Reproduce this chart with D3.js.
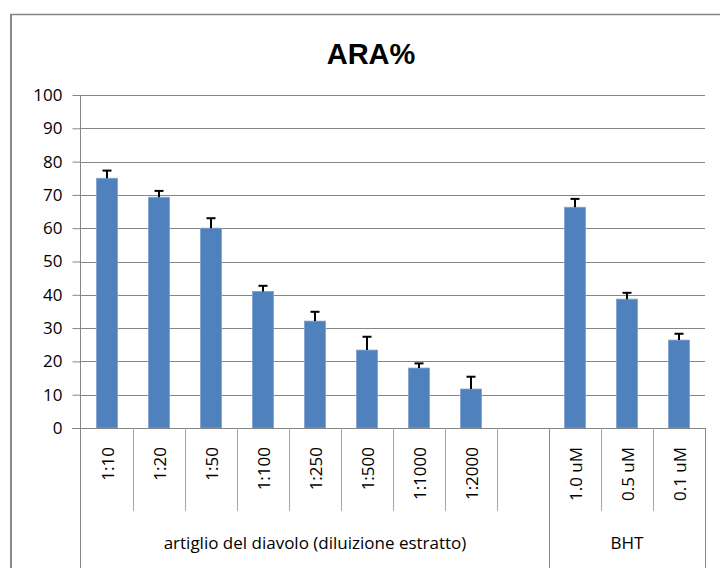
<!DOCTYPE html>
<html>
<head>
<meta charset="utf-8">
<script src="https://cdn.jsdelivr.net/npm/d3@7"></script>
<style>
  html, body { margin: 0; padding: 0; background: #fff; }
  svg { display: block; }
  text { font-family: "Open Sans", "DejaVu Sans", sans-serif; fill: #000; }
</style>
</head>
<body>
<svg id="chart" width="720" height="568"></svg>
<script>
// ---- data ----
const categories = ["1:10", "1:20", "1:50", "1:100", "1:250", "1:500", "1:1000", "1:2000", "", "1.0 uM", "0.5 uM", "0.1 uM"];
const values = [75, 69.3, 60, 41, 32.1, 23.4, 18, 11.7, null, 66.3, 38.7, 26.4];
const errors = [2.3, 1.9, 3, 1.7, 2.8, 4, 1.4, 3.7, null, 2.5, 1.9, 1.9];
const groupNames = ["artiglio del diavolo (diluizione estratto)", "BHT"];
const groupSizes = [9, 3];
const yTicks = [0, 10, 20, 30, 40, 50, 60, 70, 80, 90, 100];
const title = "ARA%";

// ---- layout ----
const svg = d3.select("#chart");
const mLeft = 81, mRight = 705, mTop = 95, mBottom = 428;
const gridColor = "#868686";
const fs = "17px";

const x = d3.scaleBand().domain(d3.range(categories.length)).range([mLeft, mRight]).padding(0);
const y = d3.scaleLinear().domain([0, 100]).range([mBottom, mTop]);

// outer chart border
svg.append("line").attr("x1", 11).attr("x2", 11).attr("y1", 14).attr("y2", 568)
  .attr("stroke", "#888").attr("stroke-width", 2);
svg.append("line").attr("x1", 10).attr("x2", 720).attr("y1", 14.5).attr("y2", 14.5)
  .attr("stroke", "#888").attr("stroke-width", 1.5);

// title
svg.append("text").attr("x", 371).attr("y", 64)
  .attr("text-anchor", "middle")
  .style("font-family", "'Liberation Sans', Arial, sans-serif")
  .style("font-weight", "bold").style("font-size", "29px")
  .text(title);

// gridlines
svg.append("g").selectAll("line").data(yTicks.filter(d => d > 0)).join("line")
  .attr("x1", mLeft).attr("x2", mRight)
  .attr("y1", d => Math.round(y(d)) + 0.5).attr("y2", d => Math.round(y(d)) + 0.5)
  .attr("stroke", gridColor).attr("stroke-width", 1);

// y axis
const yAxis = d3.axisLeft(y).tickValues(yTicks).tickSize(8).tickPadding(10).tickFormat(d3.format("d"));
const gy = svg.append("g").attr("transform", `translate(${mLeft - 0.5},0)`).call(yAxis);
gy.select(".domain").remove();
gy.selectAll(".tick line").attr("stroke", gridColor);
gy.selectAll(".tick text").style("font-size", fs).style("font-family", "'Open Sans', sans-serif").attr("fill", "#000");

// bars
const barW = 21;
svg.append("g").selectAll("rect").data(values.map((v, i) => ({ v, i })).filter(d => d.v != null)).join("rect")
  .attr("x", d => x(d.i) + x.bandwidth() / 2 - barW / 2)
  .attr("y", d => y(d.v))
  .attr("width", barW)
  .attr("height", d => y(0) - y(d.v))
  .attr("fill", "#4F81BD")
  .attr("stroke", "#7FA0CF").attr("stroke-width", 0.8);

// error bars (upper only)
const eg = svg.append("g");
values.forEach((v, i) => {
  if (v == null) return;
  const cx = x(i) + x.bandwidth() / 2;
  eg.append("line").attr("x1", cx).attr("x2", cx).attr("y1", y(v)).attr("y2", y(v + errors[i]))
    .attr("stroke", "#000").attr("stroke-width", 2);
  eg.append("line").attr("x1", cx - 4.5).attr("x2", cx + 4.5).attr("y1", y(v + errors[i])).attr("y2", y(v + errors[i]))
    .attr("stroke", "#000").attr("stroke-width", 2);
});

// x axis baseline + y axis line
svg.append("line").attr("x1", mLeft - 9).attr("x2", mRight).attr("y1", mBottom + 0.5).attr("y2", mBottom + 0.5)
  .attr("stroke", gridColor);
svg.append("line").attr("x1", mLeft - 0.5).attr("x2", mLeft - 0.5).attr("y1", mTop).attr("y2", 568)
  .attr("stroke", gridColor);

// category separators
const groupEdges = [0];
groupSizes.forEach(s => groupEdges.push(groupEdges[groupEdges.length - 1] + s));
d3.range(1, categories.length + 1).forEach(k => {
  const xx = Math.round(k < categories.length ? x(k) : mRight) + 0.5;
  const isGroup = groupEdges.includes(k);
  svg.append("line").attr("x1", xx).attr("x2", xx).attr("y1", mBottom).attr("y2", isGroup ? 568 : 511)
    .attr("stroke", isGroup ? gridColor : "#A6A6A6");
});

// category labels (rotated)
svg.append("g").selectAll("text").data(categories).join("text")
  .attr("transform", (d, i) => `translate(${x(i) + x.bandwidth() / 2 + 1},447) rotate(-90)`)
  .attr("text-anchor", "end").attr("dy", "0.36em")
  .style("font-size", fs)
  .text(d => d);

// group labels
groupNames.forEach((g, gi) => {
  const x0 = x(groupEdges[gi]);
  const x1 = groupEdges[gi + 1] < categories.length ? x(groupEdges[gi + 1]) : mRight;
  svg.append("text").attr("x", (x0 + x1) / 2).attr("y", 549)
    .attr("text-anchor", "middle").style("font-size", fs).text(g);
});
</script>
</body>
</html>
